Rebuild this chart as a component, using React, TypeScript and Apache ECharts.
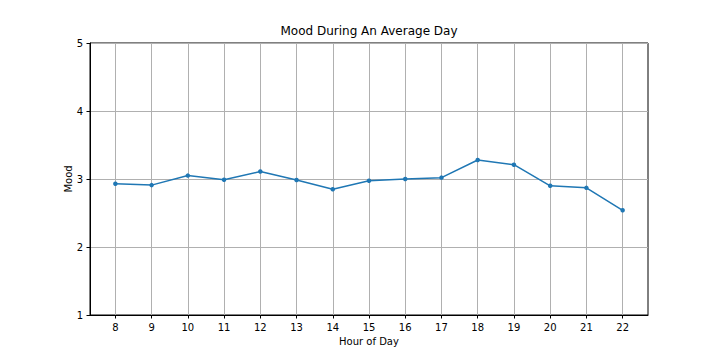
import React, { useEffect, useRef } from "react";
import * as echarts from "echarts";

const hours = [8, 9, 10, 11, 12, 13, 14, 15, 16, 17, 18, 19, 20, 21, 22];
const mood = [2.93, 2.91, 3.05, 2.99, 3.11, 2.985, 2.85, 2.975, 3.0, 3.02, 3.28, 3.21, 2.9, 2.87, 2.54];
const yTicks = [1, 2, 3, 4, 5];

const FONT = "DejaVu Sans";

export default function App() {
  const ref = useRef<HTMLDivElement>(null);
  useEffect(() => {
    if (!ref.current) return;
    const chart = echarts.init(ref.current, null, { renderer: "svg" });
    chart.setOption({
      animation: false,
      backgroundColor: "#ffffff",
      title: {
        text: "Mood During An Average Day",
        left: 369,
        top: 25,
        textAlign: "center",
        textStyle: { fontFamily: FONT, fontSize: 12, fontWeight: "normal", color: "#000" },
        padding: [0, 0, 0, 0],
      },
      grid: {
        left: 90,
        right: 72,
        top: 43,
        bottom: 45,
        show: true,
        borderColor: "#000",
        borderWidth: 1,
        backgroundColor: "transparent",
      },
      xAxis: {
        type: "value",
        min: 7.3,
        max: 22.7,
        name: "Hour of Day",
        nameLocation: "middle",
        nameGap: 21,
        nameMoveOverlap: false,
        nameTextStyle: { fontFamily: FONT, fontSize: 10, color: "#000" },
        axisLine: { show: true, lineStyle: { color: "#000", width: 1 } },
        axisTick: { show: true, length: 3.5, lineStyle: { color: "#000" }, customValues: hours },
        axisLabel: { fontFamily: FONT, fontSize: 10, color: "#000", margin: 7, customValues: hours },
        splitLine: { show: true, lineStyle: { color: "#b0b0b0", width: 1 } },
      },
      yAxis: {
        type: "value",
        min: yTicks[0],
        max: yTicks[yTicks.length - 1],
        interval: 1,
        name: "Mood",
        nameLocation: "middle",
        nameGap: 17,
        nameMoveOverlap: false,
        nameRotate: 90,
        nameTextStyle: { fontFamily: FONT, fontSize: 10, color: "#000" },
        axisLine: { show: true, lineStyle: { color: "#000", width: 1 } },
        axisTick: { show: true, length: 3.5, lineStyle: { color: "#000" } },
        axisLabel: { fontFamily: FONT, fontSize: 10, color: "#000", margin: 7 },
        splitLine: { show: true, lineStyle: { color: "#b0b0b0", width: 1 } },
      },
      series: [
        {
          type: "line",
          data: hours.map((h, i) => [h, mood[i]]),
          symbol: "circle",
          symbolSize: 4.5,
          itemStyle: { color: "#1f77b4" },
          lineStyle: { color: "#1f77b4", width: 1.5 },
        },
      ],
    });
    return () => chart.dispose();
  }, []);
  return <div ref={ref} style={{ width: 720, height: 360, margin: -8 }} />;
}
